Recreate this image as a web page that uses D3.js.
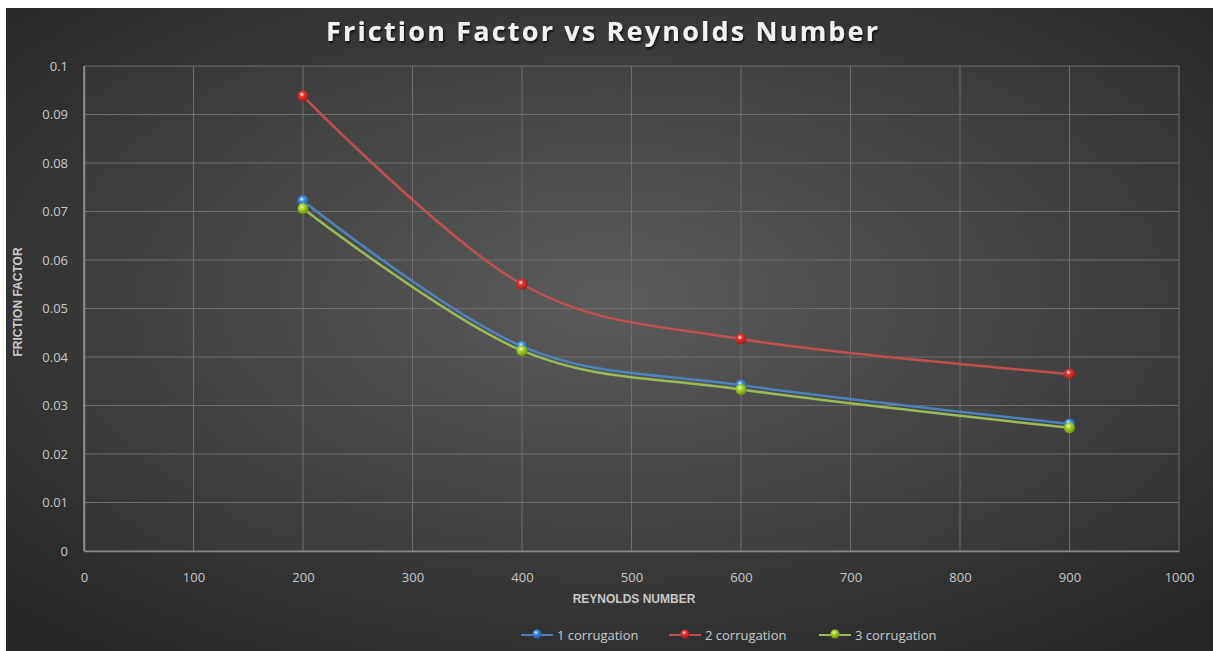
<!DOCTYPE html>
<html>
<head>
<meta charset="utf-8">
<script src="https://cdn.jsdelivr.net/npm/d3@7"></script>
<style>
  html, body { margin: 0; padding: 0; background: #fff; }
  svg { display: block; }
</style>
</head>
<body>
<div id="chart"></div>
<script>
// data
const reynolds = [200, 400, 600, 900];
const corr1 = [0.0722, 0.0422, 0.0342, 0.0262];
const corr2 = [0.0938, 0.0550, 0.0437, 0.0365];
const corr3 = [0.0706, 0.0413, 0.0333, 0.0254];
const seriesNames = ["1 corrugation", "2 corrugation", "3 corrugation"];
const seriesColors = ["#4f81bd", "#c0504d", "#9bbb59"];
const markerColors = ["#3a8fe8", "#e8302d", "#a8d820"];
const xTicks = [0, 100, 200, 300, 400, 500, 600, 700, 800, 900, 1000];
const yTicks = [0, 0.01, 0.02, 0.03, 0.04, 0.05, 0.06, 0.07, 0.08, 0.09, 0.1];

const W = 1213, H = 651;
const margin = {top: 66, right: 34, bottom: 100, left: 84};
const width = W - margin.left - margin.right;
const height = H - margin.top - margin.bottom;

const svg = d3.select("#chart").append("svg")
    .attr("width", W)
    .attr("height", H);

const defs = svg.append("defs");
const bg = defs.append("radialGradient")
    .attr("id", "bg")
    .attr("cx", "50%").attr("cy", "45%").attr("r", "70%");
bg.append("stop").attr("offset", "0%").attr("stop-color", "#565656");
bg.append("stop").attr("offset", "100%").attr("stop-color", "#262626");

const shadow = defs.append("filter").attr("id", "shadow")
    .attr("x", "-10%").attr("y", "-30%").attr("width", "120%").attr("height", "160%");
shadow.append("feDropShadow")
    .attr("dx", 1).attr("dy", 2).attr("stdDeviation", 1.2)
    .attr("flood-color", "#000").attr("flood-opacity", 0.8);

seriesNames.forEach((n, i) => {
    const g = defs.append("radialGradient").attr("id", "ball" + i)
        .attr("cx", "40%").attr("cy", "35%").attr("r", "65%");
    g.append("stop").attr("offset", "0%").attr("stop-color", "#ffffff").attr("stop-opacity", 0.9);
    g.append("stop").attr("offset", "35%").attr("stop-color", markerColors[i]);
    g.append("stop").attr("offset", "100%").attr("stop-color", d3.color(markerColors[i]).darker(1.2));
});

// background, white border at top/left like the screenshot
svg.append("rect").attr("x", 6).attr("y", 8).attr("width", W - 6).attr("height", H - 8)
    .attr("fill", "url(#bg)");

const g = svg.append("g")
    .attr("transform", "translate(" + margin.left + "," + margin.top + ")");

g.append("rect").attr("width", width).attr("height", height)
    .attr("fill", "#ffffff").attr("fill-opacity", 0.03);

const x = d3.scaleLinear().domain([0, 1000]).range([0, width]);
const y = d3.scaleLinear().domain([0, 0.1]).range([height, 0]);

// gridlines
g.append("g").selectAll("line.h")
    .data(yTicks)
    .enter().append("line")
    .attr("x1", 0).attr("x2", width)
    .attr("y1", d => y(d)).attr("y2", d => y(d))
    .attr("stroke", "#6e6e6e").attr("stroke-width", 1);
g.append("g").selectAll("line.v")
    .data(xTicks)
    .enter().append("line")
    .attr("y1", 0).attr("y2", height)
    .attr("x1", d => x(d)).attr("x2", d => x(d))
    .attr("stroke", "#6e6e6e").attr("stroke-width", 1);

// axes
const xAxis = g.append("g")
    .attr("transform", "translate(0," + height + ")")
    .call(d3.axisBottom(x).tickValues(xTicks).tickSize(0).tickPadding(22).tickFormat(d3.format("d")));
const yAxis = g.append("g")
    .call(d3.axisLeft(y).tickValues(yTicks).tickSize(0).tickPadding(16).tickFormat(d => d === 0 ? "0" : String(+d.toFixed(2))));
[xAxis, yAxis].forEach(a => {
    a.select(".domain").attr("stroke", "#8a8a8a").attr("stroke-width", 1.5);
    a.selectAll("text")
        .attr("fill", "#c8c8c8")
        .style("font-family", "'Open Sans', sans-serif")
        .style("font-size", "13px");
});
g.append("line").attr("x1", 0).attr("x2", 0).attr("y1", 0).attr("y2", height)
    .attr("stroke", "#8a8a8a").attr("stroke-width", 1.5);

// lines
const line = d3.line()
    .x(d => x(d[0]))
    .y(d => y(d[1]))
    .curve(d3.curveCardinal.tension(0));

const allSeries = [corr1, corr2, corr3];
allSeries.forEach((vals, i) => {
    const pts = reynolds.map((r, j) => [r, vals[j]]);
    g.append("path")
        .datum(pts)
        .attr("fill", "none")
        .attr("stroke", seriesColors[i])
        .attr("stroke-width", 2.5)
        .attr("d", line);
});
allSeries.forEach((vals, i) => {
    g.selectAll(".m" + i)
        .data(reynolds.map((r, j) => [r, vals[j]]))
        .enter().append("circle")
        .attr("cx", d => x(d[0]))
        .attr("cy", d => y(d[1]))
        .attr("r", 5.5)
        .attr("fill", "url(#ball" + i + ")");
});

// title
svg.append("text")
    .attr("x", 602).attr("y", 41)
    .attr("text-anchor", "middle")
    .attr("fill", "#f2f2f2")
    .attr("filter", "url(#shadow)")
    .attr("textLength", 552)
    .attr("lengthAdjust", "spacing")
    .style("font-family", "'Open Sans', sans-serif")
    .style("font-weight", "bold")
    .style("font-size", "27px")
    .text("Friction Factor vs Reynolds Number");

// axis titles
svg.append("text")
    .attr("x", 634).attr("y", 603)
    .attr("text-anchor", "middle")
    .attr("fill", "#c8c8c8")
    .style("font-family", "'Liberation Sans Narrow', 'Liberation Sans', sans-serif")
    .style("font-weight", "bold")
    .style("font-size", "12px")
    .text("REYNOLDS NUMBER");

svg.append("text")
    .attr("transform", "translate(22,302) rotate(-90)")
    .attr("text-anchor", "middle")
    .attr("fill", "#c8c8c8")
    .style("font-family", "'Liberation Sans Narrow', 'Liberation Sans', sans-serif")
    .style("font-weight", "bold")
    .style("font-size", "12px")
    .text("FRICTION FACTOR");

// legend
const legendX = [521, 669, 819];
const legend = svg.append("g");
seriesNames.forEach((n, i) => {
    const lg = legend.append("g").attr("transform", "translate(" + legendX[i] + ",635)");
    lg.append("line").attr("x1", 0).attr("x2", 32).attr("y1", 0).attr("y2", 0)
        .attr("stroke", seriesColors[i]).attr("stroke-width", 2);
    lg.append("circle").attr("cx", 16).attr("cy", -1).attr("r", 4.5)
        .attr("fill", "url(#ball" + i + ")");
    lg.append("text").attr("x", 36).attr("y", 4.5)
        .attr("fill", "#c8c8c8")
        .style("font-family", "'Open Sans', sans-serif")
        .style("font-size", "13px")
        .text(n);
});
</script>
</body>
</html>
